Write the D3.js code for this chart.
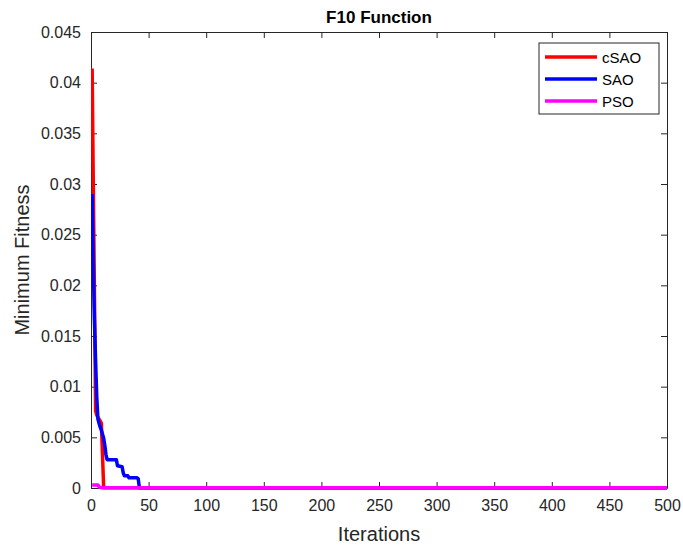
<!DOCTYPE html>
<html><head><meta charset="utf-8">
<script src="https://cdn.jsdelivr.net/npm/d3@7"></script>
<style>body{margin:0;background:#fff;} text{font-family:"Liberation Sans",Arial,sans-serif;}</style>
</head><body>
<svg id="chart" width="683" height="548"></svg>
<script>
const title = "F10 Function";
const xLabel = "Iterations";
const yLabel = "Minimum Fitness";
const seriesNames = ["cSAO", "SAO", "PSO"];
const seriesColors = ["#ff0000", "#0000ff", "#ff00ff"];
const xTicks = [0,50,100,150,200,250,300,350,400,450,500];
const yTicks = [0,0.005,0.01,0.015,0.02,0.025,0.03,0.035,0.04,0.045];
const yTickLabels = ["0","0.005","0.01","0.015","0.02","0.025","0.03","0.035","0.04","0.045"];

// breakpoints (iteration, value); flat between listed points
const csaoIter = [1, 2, 3, 4, 5, 6, 7, 8, 9, 10, 11, 500];
const csaoVal  = [0.0414, 0.030, 0.019, 0.0076, 0.0072, 0.0070, 0.0068, 0.0066, 0.0064, 0.0032, 0.00003, 0.00003];
const saoIter = [1, 2, 3, 4, 5, 6, 7, 8, 9, 10, 11, 12, 13, 14, 22, 23, 27, 28, 29, 32, 33, 40, 41, 42, 500];
const saoVal  = [0.029, 0.022, 0.0165, 0.0125, 0.0090, 0.0068, 0.0064, 0.0060, 0.0057, 0.0053, 0.0049, 0.0042, 0.0033, 0.0028, 0.0028, 0.0022, 0.0021, 0.0015, 0.0012, 0.0012, 0.0010, 0.0010, 0.0009, 0.00003, 0.00003];
const psoIter = [1, 6, 7, 9, 500];
const psoVal  = [0.0003, 0.0003, 0.0001, 0.00003, 0.00003];

const svg = d3.select("#chart");
const m = {l:91, r:667, t:32, b:488};
const x = d3.scaleLinear().domain([0,500]).range([m.l, m.r]);
const y = d3.scaleLinear().domain([0,0.045]).range([m.b, m.t]);
const axisColor = "#262626";

// axes
const gx = svg.append("g").attr("transform", `translate(0,${m.b})`)
  .call(d3.axisBottom(x).tickValues(xTicks).tickSizeInner(-6).tickSizeOuter(0).tickPadding(12));
const gxt = svg.append("g").attr("transform", `translate(0,${m.t})`)
  .call(d3.axisTop(x).tickValues(xTicks).tickSizeInner(-6).tickSizeOuter(0).tickFormat(""));
const gy = svg.append("g").attr("transform", `translate(${m.l},0)`)
  .call(d3.axisLeft(y).tickValues(yTicks).tickSizeInner(-6).tickSizeOuter(0).tickPadding(10)
    .tickFormat((d,i)=>yTickLabels[i]));
const gyr = svg.append("g").attr("transform", `translate(${m.r},0)`)
  .call(d3.axisRight(y).tickValues(yTicks).tickSizeInner(-6).tickSizeOuter(0).tickFormat(""));
[gx,gxt,gy,gyr].forEach(g=>{
  g.selectAll("path.domain").attr("stroke", axisColor).attr("stroke-width",1);
  g.selectAll("line").attr("stroke", axisColor).attr("stroke-width",1);
  g.selectAll("text").attr("fill", axisColor).style("font-size","16px")
    .style("font-family","'Liberation Sans',Arial,sans-serif");
});

const series = [
  {it: csaoIter, v: csaoVal},
  {it: saoIter, v: saoVal},
  {it: psoIter, v: psoVal}
];
const line = d3.line().x(d=>x(d[0])).y(d=>y(d[1]));
const clip = svg.append("clipPath").attr("id","clip").append("rect")
  .attr("x", m.l).attr("y", m.t).attr("width", m.r-m.l).attr("height", m.b-m.t+3);
series.forEach((s,i)=>{
  const pts = s.it.map((t,j)=>[t, s.v[j]]);
  svg.append("path").datum(pts).attr("d", line)
    .attr("fill","none").attr("stroke", seriesColors[i]).attr("stroke-width",3.5)
    .attr("stroke-linejoin","round").attr("clip-path","url(#clip)");
});

// title & labels
svg.append("text").attr("x", (m.l+m.r)/2).attr("y", 23).attr("text-anchor","middle")
  .style("font-size","17px").style("font-weight","bold").attr("fill","#000").text(title);
svg.append("text").attr("x", (m.l+m.r)/2).attr("y", 541).attr("text-anchor","middle")
  .style("font-size","20px").attr("fill",axisColor).text(xLabel);
svg.append("text").attr("transform", `translate(29,${(m.t+m.b)/2}) rotate(-90)`).attr("text-anchor","middle")
  .style("font-size","20px").attr("fill",axisColor).text(yLabel);

// legend
const lg = svg.append("g");
lg.append("rect").attr("x",539).attr("y",43).attr("width",120).attr("height",71)
  .attr("fill","#fff").attr("stroke",axisColor).attr("stroke-width",1);
seriesNames.forEach((n,i)=>{
  const yy = 57 + i*22;
  lg.append("line").attr("x1",545).attr("x2",597).attr("y1",yy).attr("y2",yy)
    .attr("stroke", seriesColors[i]).attr("stroke-width",3.5);
  lg.append("text").attr("x",602).attr("y",yy+5.5).style("font-size","15px").attr("fill","#000").text(n);
});
</script>
</body></html>
